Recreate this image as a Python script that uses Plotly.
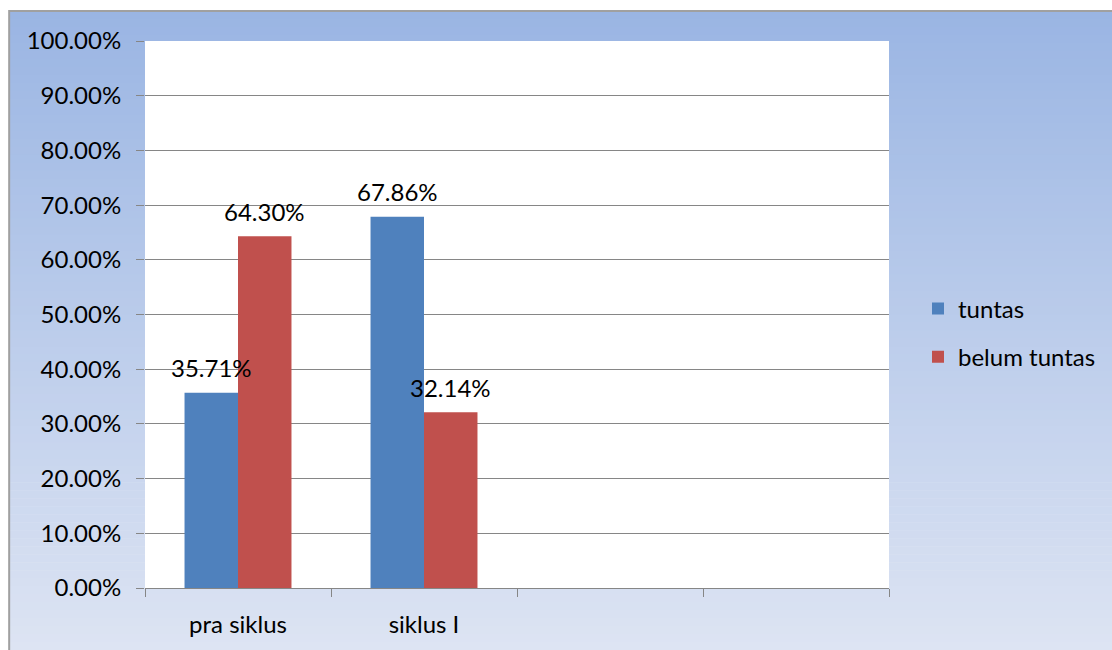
import plotly.graph_objects as go

categories = ["pra siklus", "siklus I", " ", "  "]
tuntas = [35.71, 67.86, None, None]
belum_tuntas = [64.30, 32.14, None, None]
series_names = ["tuntas", "belum tuntas"]
series_colors = ["#4F81BD", "#C0504D"]
y_ticks = [0, 10, 20, 30, 40, 50, 60, 70, 80, 90, 100]
y_ticktext = [f"{v:.2f}%" for v in y_ticks]

W, H = 1112, 650
ML, MR, MT, MB = 145, 222, 41, 62
PW, PH = W - ML - MR, H - MT - MB
FONT = "Lato"
FS = 24
BARGAP = 0.425


def xp(px):
    return (px - ML) / PW


def yp(py):
    return (H - MB - py) / PH


fig = go.Figure()
for name, vals, col in zip(series_names, [tuntas, belum_tuntas], series_colors):
    fig.add_trace(go.Bar(x=categories, y=vals, name=name, marker_color=col,
                         marker_line_width=0, legendgroup=name))

# data labels above bars
w = (1 - BARGAP) / 2
annotations = []
for j, vals in enumerate([tuntas, belum_tuntas]):
    for i, v in enumerate(vals):
        if v is None:
            continue
        annotations.append(dict(x=i + (j - 0.5) * w, y=v, xref="x", yref="y",
                                text=f"{v:.2f}%", showarrow=False,
                                yanchor="middle", yshift=25,
                                font=dict(family=FONT, size=FS, color="#000000")))

# gradient background
shapes = []
top_c = (154, 181, 227)
bot_c = (221, 228, 243)
y_top, y_bot = 11, H
n = 80
for k in range(n):
    t = (k + 0.5) / n
    c = tuple(round(a + (b - a) * t) for a, b in zip(top_c, bot_c))
    y0 = y_top + (y_bot - y_top) * k / n
    y1 = y_top + (y_bot - y_top) * (k + 1) / n + 0.6
    shapes.append(dict(type="rect", xref="paper", yref="paper", layer="below",
                       x0=xp(9), x1=xp(W + 5), y0=yp(y0), y1=yp(min(y1, H + 5)),
                       fillcolor="rgb(%d,%d,%d)" % c, line_width=0))
# plot area white
shapes.append(dict(type="rect", xref="paper", yref="paper", layer="below",
                   x0=0, x1=1, y0=0, y1=1, fillcolor="white", line_width=0))
# outer border
shapes.append(dict(type="rect", xref="paper", yref="paper", layer="above",
                   x0=xp(9), x1=xp(W + 10), y0=yp(H + 10), y1=yp(11),
                   fillcolor="rgba(0,0,0,0)", line=dict(color="#A0A0A0", width=2)))

fig.update_layout(
    width=W, height=H,
    margin=dict(l=ML, r=MR, t=MT, b=MB, pad=0),
    paper_bgcolor="white", plot_bgcolor="white",
    barmode="group", bargap=BARGAP, bargroupgap=0,
    font=dict(family=FONT, size=FS, color="#000000"),
    shapes=shapes, annotations=annotations,
    showlegend=True,
    legend=dict(x=xp(918), y=yp(333), xanchor="left", yanchor="middle",
                bgcolor="rgba(0,0,0,0)", font=dict(family=FONT, size=FS),
                tracegroupgap=14, traceorder="grouped"),
)
fig.update_xaxes(type="category", categoryorder="array", categoryarray=categories,
                 showgrid=False, showline=True, linecolor="#868686", linewidth=1,
                 ticks="outside", tickson="boundaries", ticklen=8,
                 tickcolor="#868686", tickwidth=1, ticklabelstandoff=15,
                 tickfont=dict(family=FONT, size=FS), zeroline=False)
fig.update_yaxes(range=[0, 100], tickmode="array", tickvals=y_ticks, ticktext=y_ticktext,
                 showgrid=True, gridcolor="#868686", gridwidth=1,
                 showline=False, zeroline=False,
                 ticks="outside", ticklen=8, tickcolor="#868686", tickwidth=1,
                 ticklabelstandoff=10, tickfont=dict(family=FONT, size=FS))

fig.write_html("out.html")
